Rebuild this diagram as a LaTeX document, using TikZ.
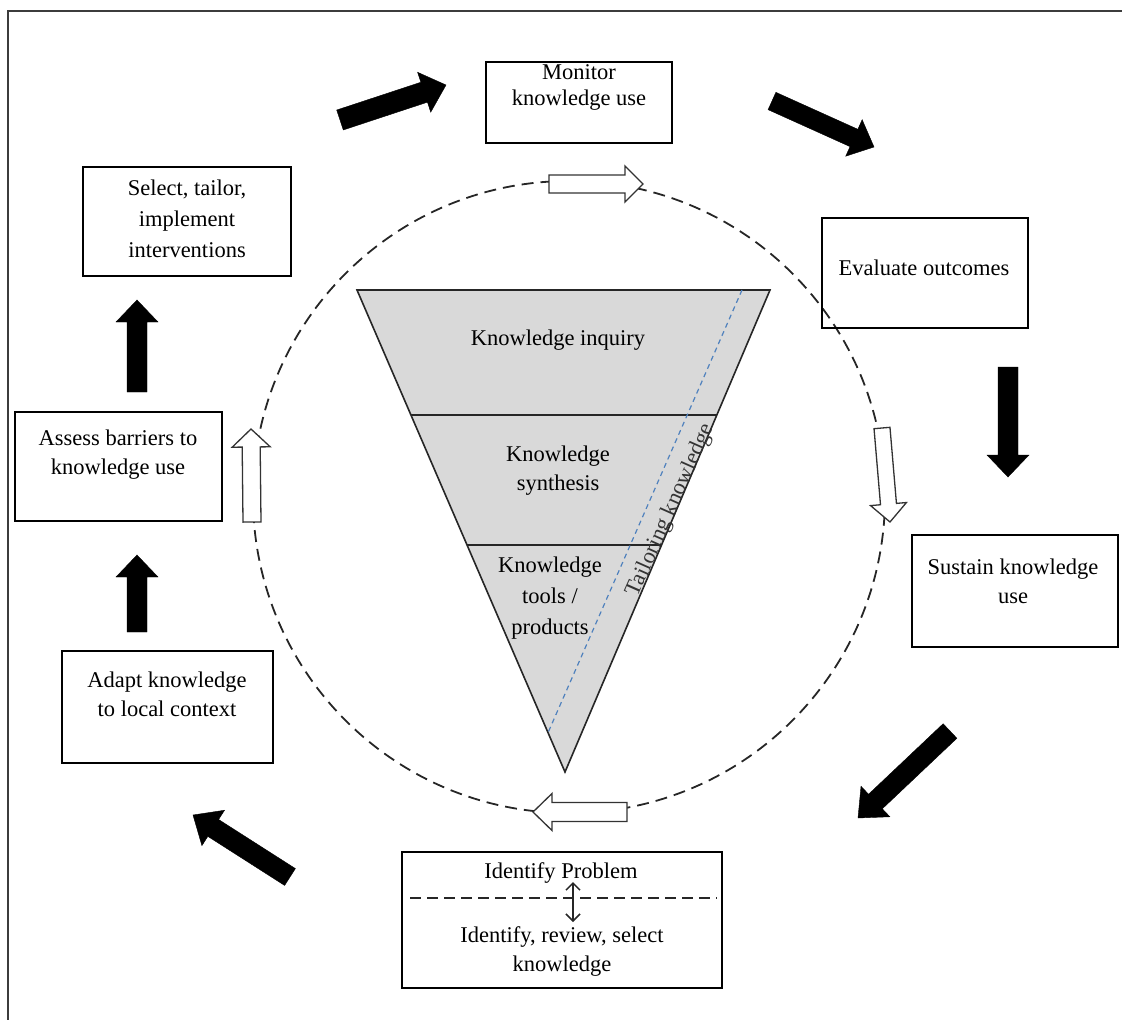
\documentclass[tikz,border=0pt]{standalone}
\usepackage{fontspec}
\setmainfont{Liberation Serif}
\usetikzlibrary{calc,arrows.meta}

\definecolor{trifill}{RGB}{217,217,217}
\definecolor{tailorblue}{RGB}{79,129,189}
\definecolor{framegray}{RGB}{60,60,60}

% Block arrow drawn as a polygon between a tail and a tip coordinate.
% #1 style, #2 name, #3 tail, #4 tip, #5 half shaft width, #6 half head width, #7 head length
\newcommand\blockarrow[7]{%
  \coordinate (#2-t) at #3;
  \coordinate (#2-p) at #4;
  \coordinate (#2-b) at ($(#2-p)!#7!(#2-t)$);
  \draw[#1] ($(#2-t)!#5!90:(#2-p)$) -- ($(#2-b)!#5!90:(#2-p)$)
    -- ($(#2-b)!#6!90:(#2-p)$) -- (#2-p) -- ($(#2-b)!#6!-90:(#2-p)$)
    -- ($(#2-b)!#5!-90:(#2-p)$) -- ($(#2-t)!#5!-90:(#2-p)$) -- cycle;
}

\begin{document}
\begin{tikzpicture}[x=1pt,y=-1pt,
  box/.style={draw=black, line width=1.6pt, inner sep=0pt},
  lbl/.style={align=center, font=\fontsize{22.5}{29}\selectfont, inner sep=0pt},
  widelbl/.style={lbl, font=\fontsize{22.5}{31}\selectfont},
  solidarrow/.style={fill=black, draw=black, line width=0.4pt, line join=miter},
  hollowarrow/.style={fill=white, draw=black!80, line width=1.3pt, line join=miter},
  cycleline/.style={draw=black!85, line width=1.8pt, dash pattern=on 12pt off 7pt},
]
\useasboundingbox (0,0) rectangle (1122,1020);

% outer frame (top and left edges)
\draw[framegray, line width=2.5pt] (8,1020) -- (8,11) -- (1122,11);

% dashed cycle
\node[circle, cycleline, minimum size=632pt, inner sep=0pt] (cycle) at (569,497) {};

% funnel
\coordinate (tl) at (357,290);
\coordinate (tr) at (770,290);
\coordinate (ap) at (565,772);
\draw[fill=trifill, draw=black!85, line width=1.6pt, line join=miter] (tl) -- (tr) -- (ap) -- cycle;
\draw[black!85, line width=1.6pt] ($(tl)!0.2593!(ap)$) -- ($(tr)!0.2593!(ap)$);
\draw[black!85, line width=1.6pt] ($(tl)!0.529!(ap)$) -- ($(tr)!0.529!(ap)$);
\coordinate (bt) at (742,290);
\coordinate (bb) at (547,735);
\draw[tailorblue, line width=1.2pt, dash pattern=on 5pt off 4pt] (bt) -- (bb);

\node[lbl] (inquiry) at (558,340) {Knowledge inquiry};
\node[lbl] (synthesis) at (558,471) {Knowledge\\synthesis};
\node[widelbl] (tools) at (550,598) {Knowledge\\tools /\\products};
\node[lbl, rotate=66, text=black!80] (tailoring) at (671,510) {Tailoring knowledge};

% outer step boxes
\node[box, minimum width=186pt, minimum height=81pt] (monitor) at (579,102.5) {};
\node[box, minimum width=208pt, minimum height=109pt] (select) at (187,221.5) {};
\node[box, minimum width=206pt, minimum height=110pt] (evaluate) at (925,273) {};
\node[box, minimum width=207pt, minimum height=109pt] (assess) at (118.5,466.5) {};
\node[box, minimum width=206pt, minimum height=112pt] (sustain) at (1015,591) {};
\node[box, minimum width=211pt, minimum height=112pt] (adapt) at (167.5,707) {};
\node[box, minimum width=320pt, minimum height=136pt] (identify) at (562,920) {};

\node[lbl, font=\fontsize{22.5}{26}\selectfont] (monitor-t) at (579,87) {Monitor\\knowledge use};
\node[widelbl] (select-t) at (187,219) {Select, tailor,\\implement\\interventions};
\node[lbl] (evaluate-t) at (924,268) {Evaluate outcomes};
\node[lbl] (assess-t) at (118,455) {Assess barriers to\\knowledge use};
\node[lbl] (sustain-t) at (1013,581) {Sustain knowledge\\use};
\node[lbl] (adapt-t) at (167,694) {Adapt knowledge\\to local context};
\node[lbl] (problem-t) at (561,873) {Identify Problem};
\node[lbl] (review-t) at (562,951) {Identify, review, select\\knowledge};

% split inside the first step box
\coordinate (split-l) at (410,898);
\coordinate (split-r) at (717,898);
\draw[black!85, line width=1.5pt, dash pattern=on 11pt off 6pt] (split-l) -- (split-r);
\coordinate (link-a) at (573,882);
\coordinate (link-b) at (573,922);
\draw[black!85, line width=1.5pt, {Straight Barb[length=7pt,width=14pt]}-{Straight Barb[length=7pt,width=14pt]}] (link-a) -- (link-b);

% action cycle arrows
\blockarrow{solidarrow}{a1}{(340,120)}{(446,85)}{10.5pt}{21pt}{23pt}
\blockarrow{solidarrow}{a2}{(772,101)}{(874,147)}{9.5pt}{20pt}{22pt}
\blockarrow{solidarrow}{a3}{(1008,367)}{(1008,477)}{10pt}{21pt}{22pt}
\blockarrow{solidarrow}{a4}{(950,731)}{(858,818)}{10pt}{21pt}{24pt}
\blockarrow{solidarrow}{a5}{(290,877)}{(193,815)}{10pt}{21pt}{24pt}
\blockarrow{solidarrow}{a6}{(137,632)}{(137,555)}{10pt}{21pt}{22pt}
\blockarrow{solidarrow}{a7}{(137,392)}{(137,300)}{10pt}{21pt}{22pt}

% knowledge-creation cycle arrows
\blockarrow{hollowarrow}{h1}{(549,184)}{(643,184)}{9pt}{18pt}{18pt}
\blockarrow{hollowarrow}{h2}{(882,428)}{(890,522)}{8pt}{18pt}{18pt}
\blockarrow{hollowarrow}{h3}{(627,812)}{(533,812)}{9.5pt}{18.5pt}{19pt}
\blockarrow{hollowarrow}{h4}{(252,522)}{(251,429)}{9pt}{19pt}{18pt}
\end{tikzpicture}
\end{document}
